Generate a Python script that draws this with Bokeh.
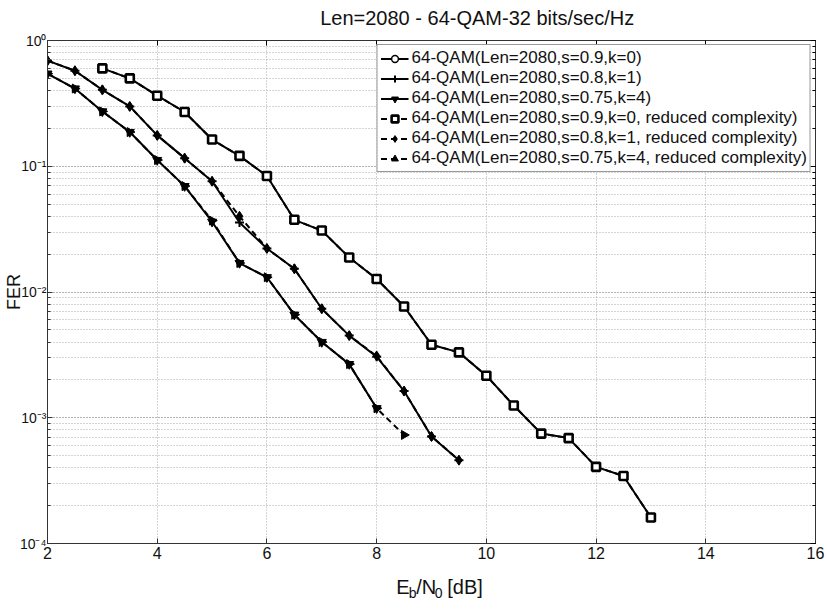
import math
from bokeh.plotting import figure
from bokeh.layouts import column
from bokeh.models import (Legend, LegendItem, LogAxis, LinearAxis, ColumnDataSource,
                          CustomJSTickFormatter, FixedTicker, LogTicker, Range1d)
from bokeh.core.properties import value
from bokeh.embed import file_html
from bokeh.resources import INLINE

# ---------------- data ----------------
ebno_a = [3, 3.5, 4, 4.5, 5, 5.5, 6, 6.5, 7, 7.5, 8, 8.5, 9, 9.5, 10, 10.5, 11, 11.5, 12, 12.5, 13]
fer_a_full = [0.60, 0.50, 0.364, 0.27, 0.163, 0.121, 0.0836, 0.0375, 0.0308, 0.0188, 0.0127,
              0.00767, 0.00381, 0.00331, 0.00216, 0.00125, 0.000748, 0.000689, 0.000407,
              0.000344, 0.000161]
fer_a_red = [0.60, 0.50, 0.364, 0.27, 0.163, 0.121, 0.0836, 0.0375, 0.0308, 0.0188, 0.0127,
             0.00767, 0.00381, 0.00331, 0.00216, 0.00125, 0.000748, 0.000689, 0.000407,
             0.000344, 0.000161]

ebno_b = [2, 2.5, 3, 3.5, 4, 4.5, 5, 5.5, 6, 6.5, 7, 7.5, 8, 8.5, 9, 9.5]
fer_b_full = [0.691, 0.575, 0.405, 0.299, 0.176, 0.116, 0.076, 0.0357, 0.0222, 0.0153,
              0.00736, 0.0045, 0.00306, 0.00163, 0.00071, 0.00046]
fer_b_red = [0.691, 0.575, 0.405, 0.299, 0.176, 0.116, 0.076, 0.0400, 0.0222, 0.0153,
             0.00736, 0.0045, 0.00310, 0.00163, 0.00071, 0.00046]

ebno_c_full = [2, 2.5, 3, 3.5, 4, 4.5, 5, 5.5, 6, 6.5, 7, 7.5, 8]
fer_c_full = [0.545, 0.415, 0.273, 0.187, 0.112, 0.0695, 0.0362, 0.0170, 0.0131, 0.0066,
              0.0040, 0.00267, 0.00119]
ebno_c_red = [2, 2.5, 3, 3.5, 4, 4.5, 5, 5.5, 6, 6.5, 7, 7.5, 8, 8.5]
fer_c_red = [0.545, 0.415, 0.273, 0.187, 0.112, 0.0695, 0.0370, 0.0170, 0.0131, 0.0066,
             0.0040, 0.00267, 0.00119, 0.00073]

labels = [
    "64-QAM(Len=2080,s=0.9,k=0)",
    "64-QAM(Len=2080,s=0.8,k=1)",
    "64-QAM(Len=2080,s=0.75,k=4)",
    "64-QAM(Len=2080,s=0.9,k=0, reduced complexity)",
    "64-QAM(Len=2080,s=0.8,k=1, reduced complexity)",
    "64-QAM(Len=2080,s=0.75,k=4, reduced complexity)",
]
x_ticks = [2, 4, 6, 8, 10, 12, 14, 16]
title_text = ["Len=2080 - 64-QAM-32 bits/sec/Hz"]
y_label = "FER"
# x label pieces: E_b / N_0 [dB]
xlab_main = ["E", "/N", "[dB]"]
xlab_sub = ["b", "0"]

FONT = "Liberation Sans"
TXT = "#111111"
AX = "#333333"


def strip(h):
    f = figure(width=828, height=h, output_backend="svg", toolbar_location=None, title=None,
               x_range=Range1d(0, 828), y_range=Range1d(0, h),
               x_axis_type=None, y_axis_type=None, min_border=0,
               min_border_left=0, min_border_right=0, min_border_top=0, min_border_bottom=0)
    f.outline_line_color = None
    f.xgrid.visible = False
    f.ygrid.visible = False
    f.background_fill_color = "white"
    f.border_fill_color = "white"
    return f


# title strip
t = strip(30)
t.text(x=[294], y=[13], text=title_text, text_font=value(FONT), text_font_size="20px",
       text_color=TXT, text_align="left", text_baseline="alphabetic")

p = figure(width=828, height=537, output_backend="svg", toolbar_location=None, title=None,
           y_axis_type="log", x_range=Range1d(2, 16), y_range=Range1d(1e-4, 1),
           min_border_left=46, min_border_right=13, min_border_top=10, min_border_bottom=24)

p.outline_line_color = AX
p.outline_line_width = 1
p.background_fill_color = "white"
p.border_fill_color = "white"

# axes
for ax in (p.xaxis[0], p.yaxis[0]):
    ax.axis_line_color = AX
    ax.major_tick_in = 5
    ax.major_tick_out = 0
    ax.minor_tick_in = 3
    ax.minor_tick_out = 0
    ax.major_tick_line_color = AX
    ax.minor_tick_line_color = AX
    ax.major_label_text_font = FONT
    ax.major_label_text_font_size = "16px"
    ax.major_label_text_color = TXT
    ax.major_label_standoff = 3

p.xaxis[0].ticker = FixedTicker(ticks=x_ticks)
p.xaxis[0].minor_tick_line_color = None
p.yaxis[0].ticker = LogTicker(num_minor_ticks=10)
p.yaxis[0].major_label_standoff = 1
p.yaxis[0].major_label_text_font_size = "14px"
p.yaxis[0].formatter = CustomJSTickFormatter(code="""
const sup = {'-':'\u207b','0':'\u2070','1':'\u00b9','2':'\u00b2','3':'\u00b3','4':'\u2074','5':'\u2075'};
const e = Math.round(Math.log10(tick));
return '10' + String(e).split('').map(c => sup[c]).join('');
""")
p.yaxis[0].axis_label = y_label
p.yaxis[0].axis_label_text_font = FONT
p.yaxis[0].axis_label_text_font_size = "18px"
p.yaxis[0].axis_label_text_font_style = "normal"
p.yaxis[0].axis_label_text_color = TXT
p.yaxis[0].axis_label_standoff = -7

# mirror ticks on top and right
blank = CustomJSTickFormatter(code="return '';")
top_ax = LinearAxis(ticker=FixedTicker(ticks=x_ticks), formatter=blank,
                    major_tick_in=5, major_tick_out=0, minor_tick_line_color=None,
                    major_label_standoff=0, axis_line_color=AX,
                    major_label_text_font_size="1px")
right_ax = LogAxis(ticker=LogTicker(num_minor_ticks=10), formatter=blank,
                   major_tick_in=5, major_tick_out=0, minor_tick_in=3, minor_tick_out=0,
                   major_label_standoff=0, axis_line_color=AX,
                   major_label_text_font_size="1px")
p.add_layout(top_ax, "above")
p.add_layout(right_ax, "right")

# grids
grid_color = "#a8a8a8"
p.xgrid.grid_line_color = grid_color
p.xgrid.grid_line_dash = "1 2"
p.xgrid.grid_line_width = 1
p.ygrid.grid_line_color = grid_color
p.ygrid.grid_line_dash = "1 2"
p.ygrid.minor_grid_line_color = grid_color
p.ygrid.minor_grid_line_dash = "1 2"
p.ygrid.minor_grid_line_width = 1

LW = 2
C = "black"

# solid (full complexity)
l1 = p.line(ebno_a, fer_a_full, line_color=C, line_width=LW)
l2 = p.line(ebno_b, fer_b_full, line_color=C, line_width=LW)
l3 = p.line(ebno_c_full, fer_c_full, line_color=C, line_width=LW)
# dashed (reduced)
l4 = p.line(ebno_a, fer_a_red, line_color=C, line_width=LW, line_dash="6 4")
l5 = p.line(ebno_b, fer_b_red, line_color=C, line_width=LW, line_dash="6 4")
l6 = p.line(ebno_c_red, fer_c_red, line_color=C, line_width=LW, line_dash="6 4")

src_c_red = ColumnDataSource(dict(x=ebno_c_red, y=fer_c_red,
                                  ang=[-math.pi / 2] * len(ebno_c_red)))

m1 = p.scatter(ebno_a, fer_a_full, marker="circle", size=6, line_color=C, fill_color="white", line_width=1.5)
m2 = p.scatter(ebno_b, fer_b_full, marker="cross", size=9, line_color=C, line_width=2)
m3 = p.scatter(ebno_c_full, fer_c_full, marker="inverted_triangle", size=9, line_color=C, fill_color=C)
m4 = p.scatter(ebno_a, fer_a_red, marker="square", size=8, line_color=C, fill_color="white", line_width=2.6)
m5 = p.scatter(ebno_b, fer_b_red, marker="diamond", size=10, line_color=C, fill_color=C)
m6 = p.scatter("x", "y", source=src_c_red, marker="triangle", angle="ang", size=9,
               line_color=C, fill_color=C)

items = [LegendItem(label=lab, renderers=[l, m]) for lab, l, m in
         zip(labels, [l1, l2, l3, l4, l5, l6], [m1, m2, m3, m4, m5, m6])]
legend = Legend(items=items, location="top_right", margin=4, padding=3, spacing=0,
                label_text_font=FONT, label_text_font_size="17px", label_text_color=TXT,
                label_height=17, glyph_height=17, glyph_width=28, label_standoff=3,
                border_line_color=AX, border_line_width=1,
                background_fill_color="white", background_fill_alpha=1.0)
p.add_layout(legend, "center")

# strip below holding the x-axis label (E_b/N_0 [dB]) with real subscripts
s = strip(43)
s.text(x=[376, 397.5, 431], y=[24, 24, 24], text=xlab_main,
       text_font=value(FONT), text_font_size="20px", text_color=TXT,
       text_align="left", text_baseline="alphabetic")
s.text(x=[389.5, 417.5], y=[18, 18], text=xlab_sub,
       text_font=value(FONT), text_font_size="14px", text_color=TXT,
       text_align="left", text_baseline="alphabetic")

layout = column(t, p, s, spacing=0)
open("out.html", "w").write(file_html(layout, INLINE))
